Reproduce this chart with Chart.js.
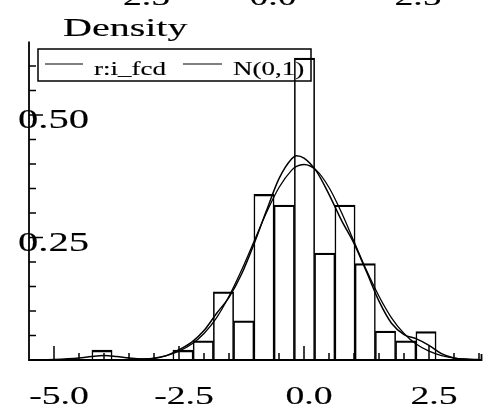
<!DOCTYPE html>
<html>
<head>
<meta charset="utf-8">
<script src="https://cdn.jsdelivr.net/npm/chart.js@4/dist/chart.umd.min.js"></script>
<style>
  body { margin: 0; background: #fff; }
  canvas { display: block; }
</style>
</head>
<body>
<canvas id="density-chart" width="492" height="416"></canvas>
<script>
// histogram of the residuals, bin centres and heights
var binCenters = [-4.04, -2.42, -2.015, -1.61, -1.205, -0.80, -0.395, 0.01, 0.415, 0.82, 1.225, 1.63, 2.035, 2.44];
var binDensity = [0.020, 0.020, 0.039, 0.139, 0.080, 0.338, 0.316, 0.616, 0.218, 0.316, 0.197, 0.059, 0.039, 0.058];

// grid for the two density curves
var curveX = [-5.5, -5, -4.5, -4.25, -4, -3.75, -3.5, -3.25, -3, -2.75, -2.5, -2.25, -2, -1.75, -1.5, -1.25,
  -1, -0.75, -0.5, -0.25, -0.15, 0, 0.25, 0.5, 0.75, 1, 1.25, 1.5, 1.75, 2, 2.25, 2.5, 2.75, 3, 3.25, 3.5];
var kernelY = [0.000, 0.001, 0.004, 0.007, 0.009, 0.007, 0.004, 0.002, 0.003, 0.009, 0.021, 0.036, 0.060, 0.095,
  0.128, 0.175, 0.237, 0.305, 0.370, 0.410, 0.417, 0.412, 0.385, 0.338, 0.285, 0.238, 0.180, 0.120, 0.075,
  0.052, 0.043, 0.030, 0.013, 0.004, 0.001, 0.000];
var normalY = [0, 0, 0, 0, 0, 0, 0.001, 0.002, 0.004, 0.009, 0.018, 0.032, 0.054, 0.086, 0.130, 0.183,
  0.242, 0.301, 0.352, 0.387, 0.395, 0.399, 0.387, 0.352, 0.301, 0.242, 0.183, 0.130, 0.086, 0.054,
  0.032, 0.018, 0.009, 0.004, 0.002, 0.001];

// axis ticks and labels
var xMinorTicks = [-5, -4.5, -4, -3.5, -3, -2.5, -2, -1.5, -1, -0.5, 0, 0.5, 1, 1.5, 2, 2.5, 3, 3.5];
var xTickValues = [-5, -2.5, 0, 2.5];
var xTickLabels = ['-5.0', '-2.5', '0.0', '2.5'];
var yMinorTicks = [0.05, 0.1, 0.15, 0.2, 0.25, 0.3, 0.35, 0.4, 0.45, 0.5, 0.55, 0.6];
var yTickValues = [0.25, 0.5];
var yTickLabels = ['0.25', '0.50'];
// labels of the panel above, only their feet show
var topLabels = ['-2.5', '0.0', '2.5'];

var serif = '"Liberation Serif", "DejaVu Serif", serif';

function wideText(ctx, text, x, y, size, sx, align) {
  ctx.save();
  ctx.font = size + 'px ' + serif;
  ctx.fillStyle = '#000';
  ctx.strokeStyle = '#000';
  ctx.lineWidth = 0.15;
  ctx.textAlign = align;
  ctx.textBaseline = 'alphabetic';
  ctx.translate(x, y);
  ctx.scale(sx, 1);
  ctx.fillText(text, 0, 0);
  ctx.strokeText(text, 0, 0);
  ctx.restore();
}

// axes with inward ticks, stretched serif labels, boxed legend
var frame = {
  id: 'frame',
  afterDatasetsDraw: function (chart) {
    var ctx = chart.ctx;
    var xs = chart.scales.x, ys = chart.scales.y;
    var a = chart.chartArea;
    ctx.save();
    ctx.strokeStyle = '#000';
    ctx.lineWidth = 1.8;
    ctx.beginPath();
    ctx.moveTo(a.left, a.top);
    ctx.lineTo(a.left, a.bottom);
    ctx.lineTo(a.right, a.bottom);
    ctx.lineTo(a.right, a.bottom - 6);
    ctx.stroke();

    ctx.lineWidth = 1.5;
    xMinorTicks.forEach(function (v) {
      var px = xs.getPixelForValue(v);
      var len = xTickValues.indexOf(v) >= 0 ? 14 : 7;
      ctx.beginPath();
      ctx.moveTo(px, a.bottom);
      ctx.lineTo(px, a.bottom - len);
      ctx.stroke();
    });
    yMinorTicks.forEach(function (v) {
      var py = ys.getPixelForValue(v);
      var len = yTickValues.indexOf(v) >= 0 ? 14 : 7;
      ctx.beginPath();
      ctx.moveTo(a.left, py);
      ctx.lineTo(a.left + len, py);
      ctx.stroke();
    });
    ctx.restore();

    xTickValues.forEach(function (v, i) {
      wideText(ctx, xTickLabels[i], xs.getPixelForValue(v) + 5, a.bottom + 44, 26, 1.45, 'center');
    });
    yTickValues.forEach(function (v, i) {
      wideText(ctx, yTickLabels[i], 18, ys.getPixelForValue(v) + 13, 28, 1.45, 'left');
    });

    wideText(ctx, 'Density', 63, 36, 25, 1.6, 'left');
    wideText(ctx, topLabels[0], 170, 5, 26, 1.45, 'right');
    wideText(ctx, topLabels[1], 273, 5, 26, 1.45, 'center');
    wideText(ctx, topLabels[2], 418, 5, 26, 1.45, 'center');

    // legend box
    ctx.save();
    ctx.strokeStyle = '#000';
    ctx.lineWidth = 1.5;
    ctx.strokeRect(38, 49, 273, 32);
    ctx.lineWidth = 1.2;
    var items = [[45, 83, 94], [183, 222, 233]];
    [1, 2].forEach(function (d, i) {
      ctx.beginPath();
      ctx.moveTo(items[i][0], 64);
      ctx.lineTo(items[i][1], 64);
      ctx.stroke();
      wideText(ctx, chart.data.datasets[d].label, items[i][2], 75, 18, 1.5, 'left');
    });
    ctx.restore();
  }
};

var ctx = document.getElementById('density-chart').getContext('2d');
var myChart = new Chart(ctx, {
  data: {
    datasets: [{
      type: 'bar',
      label: 'r:i_fcd histogram',
      data: binCenters.map(function (c, i) { return { x: c, y: binDensity[i] }; }),
      backgroundColor: 'rgba(0,0,0,0)',
      borderColor: '#000',
      borderWidth: { top: 1.6, left: 0.9, right: 0.9, bottom: 0 },
      borderSkipped: 'start',
      barPercentage: 1,
      categoryPercentage: 1
    },
    {
      type: 'line',
      label: 'r:i_fcd',
      data: curveX.map(function (x, i) { return { x: x, y: kernelY[i] }; }),
      borderColor: '#000',
      borderWidth: 1.5,
      pointRadius: 0,
      fill: false,
      cubicInterpolationMode: 'monotone'
    },
    {
      type: 'line',
      label: 'N(0,1)',
      data: curveX.map(function (x, i) { return { x: x, y: normalY[i] }; }),
      borderColor: '#000',
      borderWidth: 1.3,
      pointRadius: 0,
      fill: false,
      cubicInterpolationMode: 'monotone'
    }]
  },
  options: {
    responsive: false,
    animation: false,
    layout: {
      padding: { left: 29, right: 10.5, top: 41.5, bottom: 56 }
    },
    scales: {
      x: { type: 'linear', min: -5.5, max: 3.55, offset: false, display: false },
      y: { min: 0, max: 0.65, display: false }
    },
    plugins: {
      legend: { display: false },
      tooltip: { enabled: false }
    }
  },
  plugins: [frame]
});
</script>
</body>
</html>
